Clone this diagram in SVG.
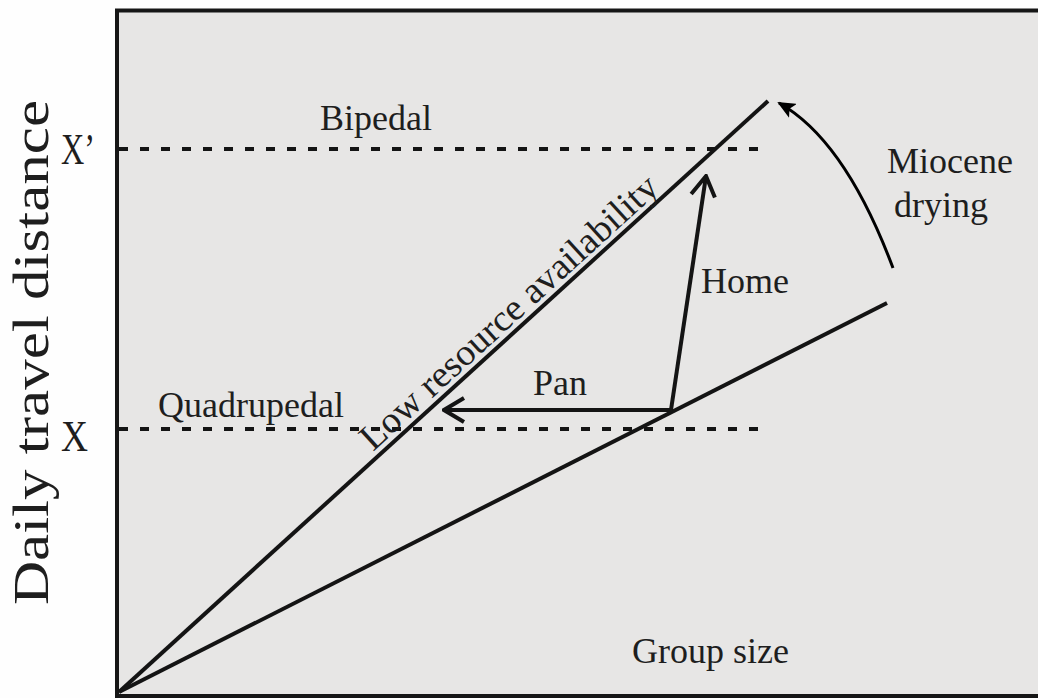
<svg xmlns="http://www.w3.org/2000/svg" width="1038" height="698" viewBox="0 0 1038 698">
<style>
text{font-family:"Liberation Serif","Times New Roman",serif;fill:#1e1e1e;font-size:36px}
text.ylab{font-size:50px}
text.xl{font-size:44px}
text.diag{font-size:37px}
.ln{stroke:#141414;stroke-width:4;fill:none;stroke-linecap:butt}
.dash{stroke:#141414;stroke-width:4;stroke-dasharray:9 12;fill:none}
</style>
<defs>
<marker id="open" viewBox="0 0 24 28" refX="22" refY="14" markerWidth="24" markerHeight="28" markerUnits="userSpaceOnUse" orient="auto">
<path d="M2,2 L22,14 L2,26" fill="none" stroke="#141414" stroke-width="4"/>
</marker>
<marker id="solid" viewBox="0 0 18 16" refX="16" refY="8" markerWidth="18" markerHeight="16" markerUnits="userSpaceOnUse" orient="auto">
<path d="M0,0 L18,8 L0,16 L4,8 Z" fill="#000"/>
</marker>
</defs>
<rect x="0" y="0" width="1038" height="698" fill="#fefefe"/>
<g id="frame">
<rect x="117" y="10.5" width="940" height="685.5" fill="#e7e6e5" stroke="#161616" stroke-width="4"/>
</g>
<g id="connectors">
<line class="dash" x1="119" y1="149" x2="766" y2="149"/>
<line class="dash" x1="119" y1="429" x2="766" y2="429"/>
<line class="ln" x1="119" y1="692" x2="768" y2="101"/>
<line class="ln" x1="119" y1="692" x2="887" y2="303"/>
<line class="ln" x1="671" y1="410" x2="706" y2="176" marker-end="url(#open)"/>
<line class="ln" x1="671" y1="410" x2="444" y2="410" marker-end="url(#open)"/>
<path d="M893,268 Q845,140 779,103" fill="none" stroke="#000" stroke-width="3" marker-end="url(#solid)"/>
</g>
<g id="axis-y"><text class="ylab" transform="translate(48,605) rotate(-90)" textLength="505" lengthAdjust="spacingAndGlyphs">Daily travel distance</text></g>
<g id="axis-x"><text x="632" y="663">Group size</text></g>
<g id="label-xprime"><text class="xl" x="61" y="164" textLength="34" lengthAdjust="spacingAndGlyphs">X’</text></g>
<g id="label-x"><text class="xl" x="61" y="451" textLength="27" lengthAdjust="spacingAndGlyphs">X</text></g>
<g id="bipedal"><text x="320" y="130">Bipedal</text></g>
<g id="quadrupedal"><text x="158" y="417">Quadrupedal</text></g>
<g id="low-resource"><text class="diag" transform="translate(373,452) rotate(-42.3)" textLength="389" lengthAdjust="spacingAndGlyphs">Low resource availability</text></g>
<g id="pan"><text x="533" y="395">Pan</text></g>
<g id="home"><text x="701" y="293">Home</text></g>
<g id="miocene"><text x="887" y="173">Miocene</text><text x="894" y="217">drying</text></g>
</svg>
